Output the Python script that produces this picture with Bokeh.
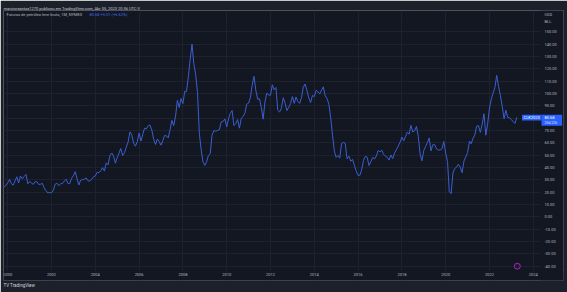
import pandas as pd
from bokeh.plotting import figure
from bokeh.models import (FixedTicker, DatetimeTickFormatter, CustomJSTickFormatter,
                          Label, BoxAnnotation, Range1d, ColumnDataSource, Title)
from bokeh.embed import file_html
from bokeh.resources import INLINE

# Monthly closes, WTI light crude futures (NYMEX), starting Nov 1999
closes_1999_2003 = [24.0, 25.6,
    27.6, 30.4, 26.9, 25.7, 29.0, 32.5, 27.4, 33.1, 30.8, 32.7, 34.4, 26.8,
    28.7, 27.4, 26.3, 28.5, 28.4, 26.3, 26.4, 27.2, 23.4, 21.2, 19.4, 19.8,
    19.5, 21.7, 26.3, 27.3, 25.3, 26.9, 27.0, 29.0, 30.5, 27.2, 26.9, 31.2,
    33.5, 36.6, 31.0, 25.8, 29.6, 30.2, 30.5, 31.6, 29.2, 29.1, 30.4, 32.5]
closes_2004_2008 = [
    33.1, 36.2, 35.8, 37.4, 39.9, 37.1, 43.8, 42.1, 49.6, 51.8, 49.1, 43.5,
    48.2, 51.8, 55.4, 49.7, 52.0, 56.5, 60.6, 68.9, 66.2, 59.8, 57.3, 61.0,
    67.9, 61.4, 66.6, 71.9, 71.3, 73.9, 74.4, 70.3, 62.9, 58.7, 63.1, 61.1,
    58.1, 61.8, 65.9, 65.7, 64.0, 70.7, 78.2, 74.0, 81.7, 94.5, 88.7, 96.0,
    91.8, 101.8, 101.6, 113.5, 127.4, 140.0, 124.1, 115.5, 100.6, 67.8, 54.4, 44.6]
closes_2009_2013 = [
    41.7, 44.8, 49.7, 51.1, 66.3, 69.9, 69.5, 70.0, 70.6, 77.0, 77.3, 79.4,
    72.9, 79.7, 83.8, 86.2, 74.0, 75.6, 78.9, 71.9, 80.0, 81.4, 84.1, 91.4,
    92.2, 97.0, 106.7, 113.9, 102.7, 95.4, 95.7, 88.8, 79.2, 93.2, 100.4, 98.8,
    98.5, 107.1, 103.0, 104.9, 86.5, 85.0, 88.1, 96.5, 92.2, 86.2, 88.9, 91.8,
    97.5, 92.0, 97.2, 93.5, 92.0, 96.6, 105.0, 107.7, 102.3, 96.4, 92.7, 98.4]
closes_2014_2018 = [
    97.5, 102.6, 101.6, 99.7, 102.7, 105.4, 98.2, 96.0, 91.2, 80.5, 66.2, 53.3,
    48.2, 49.8, 47.6, 59.6, 60.3, 59.5, 47.1, 49.2, 45.1, 46.6, 41.7, 37.0,
    33.6, 33.8, 38.3, 45.9, 49.1, 48.3, 41.6, 44.7, 48.2, 46.9, 49.4, 53.7,
    52.8, 54.0, 50.6, 49.3, 48.3, 46.0, 50.2, 47.2, 51.7, 54.4, 57.4, 60.4,
    64.7, 61.6, 64.9, 68.6, 67.0, 74.2, 68.8, 69.8, 73.3, 65.3, 50.9, 45.4]
closes_2019_2023 = [
    53.8, 57.2, 60.1, 63.9, 53.5, 58.5, 58.6, 55.1, 54.1, 54.2, 55.2, 61.1,
    51.6, 44.8, 20.5, 18.8, 35.5, 39.3, 40.3, 42.6, 40.2, 35.8, 45.3, 48.5,
    52.2, 61.5, 59.2, 63.6, 66.3, 73.5, 74.0, 68.5, 75.0, 83.6, 66.2, 75.2,
    88.2, 95.7, 100.3, 104.7, 114.7, 105.8, 98.6, 89.6, 79.5, 86.5, 80.6, 80.3,
    78.9, 77.1, 75.7, 80.68]

year_ticks = list(range(2000, 2025, 2))
price_ticks = list(range(-40, 151, 10))
header_text = "marciorsantos1270 publicou em TradingView.com, Abr 05, 2023 20:36 UTC-3"
footer_text = "TV TradingView"
legend_title = "Futuros de petróleo leve bruto, 1M, NYMEX"
legend_values = "80.68  +5.01 (+6.62%)"
currency = "USD"
unit = "BLL"
symbol = "CLK2023"
last_price = 80.68
countdown = "25d 22h"

closes = closes_1999_2003 + closes_2004_2008 + closes_2009_2013 + closes_2014_2018 + closes_2019_2023
months = pd.date_range("1999-11-01", periods=len(closes), freq="MS")
src = ColumnDataSource(dict(t=months, v=closes))


def yr_ms(y):
    base = pd.Timestamp(int(y), 1, 1)
    nxt = pd.Timestamp(int(y) + 1, 1, 1)
    ts = base + (nxt - base) * (y - int(y))
    return ts.value / 1e6


BG = "#131722"
PANEL = "#1c202b"
TXT = "#b2b5be"
BLUE = "#2962ff"
FONT = "Roboto"

p = figure(width=567, height=292, x_axis_type="datetime", y_axis_location="right",
           output_backend="svg", toolbar_location=None,
           x_range=Range1d(yr_ms(1999.808), yr_ms(2025.379)),
           y_range=Range1d(-51.6, 167.3),
           min_border_left=3, min_border_right=4, min_border_top=10, min_border_bottom=12)
p.background_fill_color = BG
p.border_fill_color = PANEL
p.outline_line_color = None

# header / footer titles
p.title = Title(text=header_text, align="left", text_font_size="4px", text_font=FONT,
                text_color="#c8cbd3", text_font_style="normal", standoff=0, offset=0)
p.add_layout(Title(text=footer_text, align="left", text_font_size="4.5px", text_font=FONT,
                   text_color="#d1d4dc", text_font_style="normal", standoff=0, offset=0), "below")

# axes (labels drawn over the price-scale / time-scale strips)
p.xaxis.ticker = FixedTicker(ticks=[pd.Timestamp(y, 1, 1).value / 1e6 for y in year_ticks])
p.xaxis.formatter = DatetimeTickFormatter(years="%Y", months="%Y", days="%Y", hours="%Y")
usd_pos = 164.0
bll_pos = 158.5
p.yaxis.ticker = FixedTicker(ticks=price_ticks + [bll_pos, usd_pos])
p.yaxis.formatter = CustomJSTickFormatter(args=dict(u=usd_pos, b=bll_pos, cu=currency, un=unit), code="""
    if (Math.abs(tick - u) < 0.01) return cu;
    if (Math.abs(tick - b) < 0.01) return un;
    return tick.toFixed(2);
""")
for ax in (p.xaxis[0], p.yaxis[0]):
    ax.axis_line_color = None
    ax.major_tick_line_color = None
    ax.minor_tick_line_color = None
    ax.major_tick_out = 0
    ax.major_tick_in = 0
    ax.minor_tick_out = 0
    ax.minor_tick_in = 0
    ax.major_label_text_color = TXT
    ax.major_label_text_font = FONT
    ax.major_label_text_font_size = "4px"
p.xaxis.major_label_standoff = -8
p.yaxis.major_label_standoff = -19
p.xgrid.grid_line_color = "#1e2230"
p.ygrid.grid_line_color = "#1e2230"
p.xgrid.ticker = FixedTicker(ticks=[pd.Timestamp(y, 1, 1).value / 1e6 for y in year_ticks])
p.ygrid.ticker = FixedTicker(ticks=price_ticks)

# price-scale and time-scale strips (cover grid)
p.add_layout(BoxAnnotation(left=537, right=560, left_units="screen", right_units="screen",
                           fill_color=BG, fill_alpha=1, line_color=None, level="underlay"))
p.add_layout(BoxAnnotation(top=10, bottom=0, top_units="screen", bottom_units="screen",
                           fill_color=BG, fill_alpha=1, line_color=None, level="underlay"))

p.line("t", "v", source=src, line_color="#3a5fd2", line_width=1.0)


def lab(x, y, text, color=TXT, size="4px", align="left", y_units="screen"):
    p.add_layout(Label(x=x, y=y, x_units="screen", y_units=y_units, text=text,
                       text_color=color, text_font=FONT, text_font_size=size,
                       text_align=align, text_baseline="middle"))


lab(3, 266, legend_title, color=TXT)
lab(86, 266, legend_values, color="#3d6ae6")

# last price labels
p.add_layout(BoxAnnotation(left=518.5, right=538, top=last_price + 2.0, bottom=last_price - 2.6,
                           left_units="screen", right_units="screen",
                           fill_color=BLUE, fill_alpha=1, line_color=None))
p.add_layout(BoxAnnotation(left=538, right=558.6, top=last_price + 2.0, bottom=last_price - 6.9,
                           left_units="screen", right_units="screen",
                           fill_color=BLUE, fill_alpha=1, line_color=None))
lab(528.2, last_price - 0.3, symbol, color="white", align="center", y_units="data")
lab(541, last_price - 0.3, f"{last_price:.2f}", color="white", y_units="data")
lab(541, last_price - 4.6, countdown, color="#e0e6ff", size="3.5px", y_units="data")

# event marker
p.scatter([pd.Timestamp("2023-04-10")], [-40], size=6, marker="circle",
          line_color="#9c27b0", fill_color="#24172e", line_width=1)

open("out.html", "w").write(file_html(p, INLINE))
